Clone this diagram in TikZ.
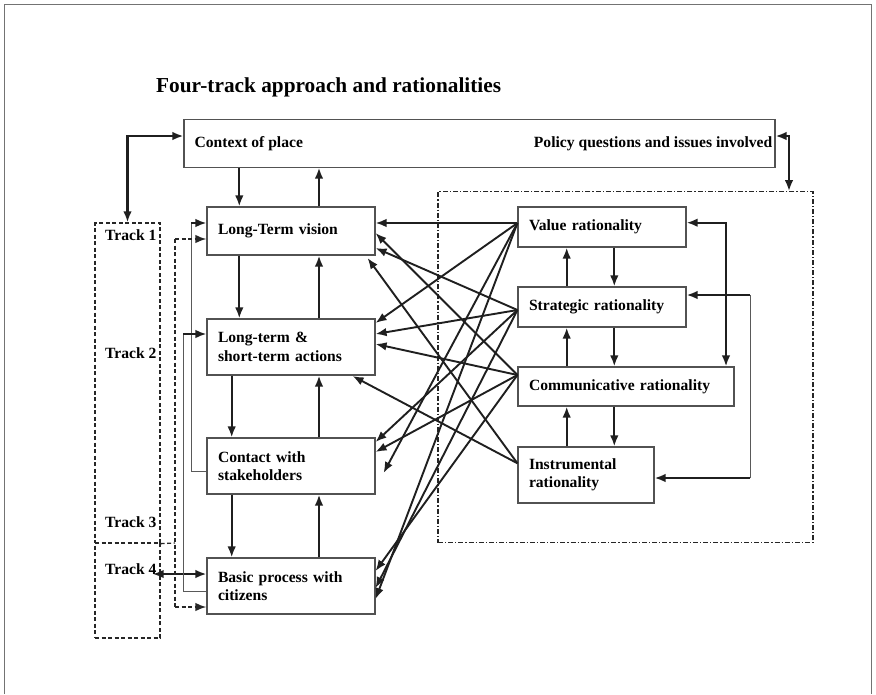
\documentclass[tikz,border=0pt]{standalone}
\usepackage{fontspec}
\setmainfont{Liberation Serif}
\usetikzlibrary{arrows.meta,calc}
\begin{document}
\begin{tikzpicture}[x=1pt,y=-1pt,
  font=\fontsize{15.6}{18.5}\selectfont\bfseries,
  tip/.tip={Latex[length=11pt,width=8.5pt]},
  box/.style={draw=black!68, line width=1.1pt, fill=white, inner xsep=11pt, inner ysep=2pt, align=left},
  flow/.style={line width=2.1pt, draw=black!88, -tip},
  both/.style={line width=2.1pt, draw=black!88, tip-tip},
  link/.style={line width=1.9pt, draw=black!88, -tip},
  guide/.style={line width=1pt, draw=black!65},
  trackbox/.style={draw=black!85, line width=1.3pt, dash pattern=on 4pt off 2.5pt},
  bracket/.style={draw=black!85, line width=1.3pt, dash pattern=on 4pt off 2.5pt},
  zone/.style={draw=black!85, line width=1.3pt, dash pattern=on 5pt off 2pt on 1.2pt off 2pt},
  label/.style={inner sep=0pt},
]
\useasboundingbox (0,0) rectangle (876,694);
\fill[white] (0,0) rectangle (876,694);

% page frame
\draw[black!55, line width=0.9pt] (4,694) -- (4,4) -- (871,4) -- (871,694);

% title
\node[anchor=west, label, font=\fontsize{21.3}{25}\selectfont\bfseries] (title) at (156,87)
  {Four-track approach and rationalities};

% context box
\node[box, minimum width=591pt, minimum height=47.5pt] (ctx) at (479.5,143.3) {};
\node[anchor=west, label] (ctxa) at ([xshift=11pt]ctx.west) {Context of place};
\node[anchor=east, label] (ctxb) at ([xshift=-3pt]ctx.east) {Policy questions and issues involved};

% track frames
\node[trackbox, minimum width=65pt, minimum height=320pt] (tr) at (127.5,383) {};
\node[trackbox, minimum width=65pt, minimum height=95pt] (tr4) at (127.5,590.5) {};
\node[anchor=west, label] (t1) at (105,235) {Track 1};
\node[anchor=west, label] (t2) at (105,353) {Track 2};
\node[anchor=west, label] (t3) at (105,521.7) {Track 3};
\node[anchor=west, label] (t4) at (105,569.3) {Track 4};

% rationality zone
\node[zone, minimum width=375pt, minimum height=351pt] (zone) at (625.5,367.3) {};

% four tracks
\node[box, minimum width=168pt, minimum height=48pt, text width=146pt] (lt) at (291,231) {Long-Term vision};
\node[box, minimum width=168pt, minimum height=56pt, text width=146pt] (act) at (291,347) {Long-term \&\\short-term actions};
\node[box, minimum width=168pt, minimum height=56pt, text width=146pt] (con) at (291,466) {Contact with\\stakeholders};
\node[box, minimum width=168pt, minimum height=56pt, text width=146pt] (bas) at (291,586) {Basic process with\\citizens};

% rationalities
\node[box, minimum width=168pt, minimum height=40pt, text width=146pt] (val) at (602,227) {Value rationality};
\node[box, minimum width=168pt, minimum height=40pt, text width=146pt] (str) at (602,307) {Strategic rationality};
\node[box, minimum width=216pt, minimum height=39pt, text width=194pt] (com) at (626,386.5) {Communicative rationality};
\node[box, minimum width=136pt, minimum height=56pt, text width=114pt] (ins) at (586,475) {Instrumental\\rationality};

% column positions of the vertical arrows
\coordinate (xd1) at (239.3,0);
\coordinate (xd2) at (231.7,0);
\coordinate (xu)  at (319,0);
\coordinate (xru) at (566.7,0);
\coordinate (xrd) at (614.3,0);
\coordinate (xvc) at (726,0);
\coordinate (xsi) at (750,0);

% track column
\draw[flow] (xd1 |- ctx.south) -- (xd1 |- lt.north);
\draw[flow] (xu |- lt.north) -- (xu |- ctx.south);
\draw[flow] (xd1 |- lt.south) -- (xd1 |- act.north);
\draw[flow] (xu |- act.north) -- (xu |- lt.south);
\draw[flow] (xd2 |- act.south) -- (xd2 |- con.north);
\draw[flow] (xu |- con.north) -- (xu |- act.south);
\draw[flow] (xd2 |- con.south) -- (xd2 |- bas.north);
\draw[flow] (xu |- bas.north) -- (xu |- con.south);

% rationality column
\draw[flow] (xrd |- val.south) -- (xrd |- str.north);
\draw[flow] (xru |- str.north) -- (xru |- val.south);
\draw[flow] (xrd |- str.south) -- (xrd |- com.north);
\draw[flow] (xru |- com.north) -- (xru |- str.south);
\draw[flow] (xrd |- com.south) -- (xrd |- ins.north);
\draw[flow] (xru |- ins.north) -- (xru |- com.south);

\draw[both] ([yshift=4.3pt]val.east) -| (xvc |- com.north);
\path ([yshift=12pt]str.east) coordinate (sE) ([yshift=-3pt]ins.east) coordinate (iE);
\draw[guide] (xsi |- sE) -- (xsi |- iE);
\draw[flow] (xsi |- sE) -- (sE);
\draw[flow] (xsi |- iE) -- (iE);

% links to the context box
\draw[both] (tr.north) |- ([yshift=7.3pt]ctx.west);
\draw[both] ([yshift=7.3pt]ctx.east) -| ([xshift=163.5pt]zone.north);

% track 4 link
\draw[both] ([xshift=-8pt,yshift=16.5pt]tr4.east) -- ([yshift=12pt]bas.west);

% feedback lines on the left
\coordinate (g1) at (191,223);
\coordinate (g1b) at (191,471);
\draw[guide] ([yshift=-5pt]con.west) -- (g1b) -- (g1);
\draw[link] (g1) -- ([yshift=8pt]lt.west);
\coordinate (g2) at (183,334);
\coordinate (g2b) at (183,591);
\draw[guide] ([yshift=-5pt]bas.west) -- (g2b) -- (g2);
\draw[link] (g2) -- ([yshift=13pt]act.west);

% dashed bracket from the track frame
\coordinate (bt) at (175,239);
\coordinate (bm) at (175,543);
\coordinate (bb) at (175,607);
\draw[bracket] (tr.south east) -- (bm);
\draw[bracket] (bt) -- (bb);
\draw[bracket, line width=1.8pt, -tip] (bt) -- ([yshift=-8pt]lt.west);
\draw[bracket, line width=1.8pt, -tip] (bb) -- ([yshift=-21pt]bas.west);

% fan points on the rationalities
\path ([yshift=4pt]val.west) coordinate (fV);
\path ([yshift=-3pt]str.west) coordinate (fS);
\path ([yshift=11.5pt]com.west) coordinate (fC);
\path ([yshift=11.7pt]ins.west) coordinate (fI);

% rationalities feeding the tracks
\draw[link] (fV) -- ([yshift=8pt]lt.east);
\draw[link] (fC) -- ([yshift=-2pt]lt.east);
\draw[link] (fS) -- ([yshift=-17pt]lt.east);
\draw[link] (fI) -- ([xshift=-8pt,yshift=-27pt]lt.east);

\draw[link] (fV) -- ([yshift=24pt]act.east);
\draw[link] (fS) -- ([yshift=13pt]act.east);
\draw[link] (fC) -- ([yshift=3pt]act.east);
\draw[link] (fI) -- ([xshift=-23pt,yshift=-29pt]act.east);

\draw[link] (fS) -- ([yshift=24pt]con.east);
\draw[link] (fC) -- ([yshift=14pt]con.east);
\draw[link] (fV) -- ([xshift=8pt,yshift=-7pt]con.east);

\draw[link] (fC) -- ([yshift=15pt]bas.east);
\draw[link] (fS) -- ([yshift=-2pt]bas.east);
\draw[link] (fV) -- ([yshift=-13pt]bas.east);
\end{tikzpicture}
\end{document}
